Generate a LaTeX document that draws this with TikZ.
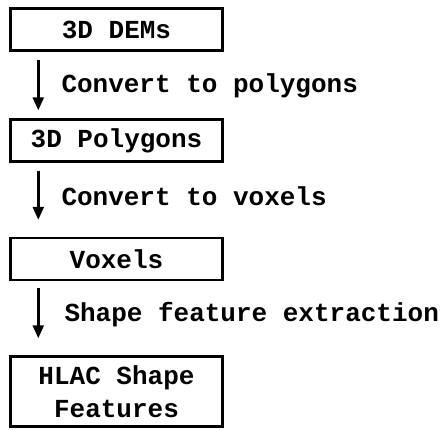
\documentclass[tikz,border=0pt]{standalone}
\usepackage{fontspec}
\setmonofont{Liberation Mono}
\usetikzlibrary{arrows.meta,positioning,calc}
\tikzset{
	stage/.style={draw,line width=2.4pt,minimum width=212pt,minimum height=42pt,inner sep=0pt,
		font=\ttfamily\bfseries\fontsize{26}{33}\selectfont},
	flow/.style={-{Triangle[width=11pt,length=13pt]},line width=2.4pt},
	steplabel/.style={anchor=west,inner sep=0pt,font=\ttfamily\bfseries\fontsize{26}{30}\selectfont}
}
\begin{document}
\begin{tikzpicture}[x=1pt,y=1pt]
		\useasboundingbox (0,0) rectangle (440,-430);
		\node[stage] (dems) at (116.5,-29.5) {3D DEMs};
		\node[stage] (poly) at (116.5,-140.5) {3D Polygons};
		\node[stage] (vox) at (116.5,-259) {Voxels};
		\node[stage,minimum height=70pt,align=center] (hlac) at (116.5,-391.5) {HLAC Shape\\Features};
		\draw[flow] ([xshift=29pt,yshift=-8pt]dems.south west) coordinate (a1) -- ([xshift=29pt,yshift=8pt]poly.north west) coordinate (b1);
		\draw[flow] ([xshift=29pt,yshift=-8pt]poly.south west) coordinate (a2) -- ([xshift=29pt,yshift=17pt]vox.north west) coordinate (b2);
		\draw[flow] ([xshift=29pt,yshift=-7pt]vox.south west) coordinate (a3) -- ([xshift=29pt,yshift=17pt]hlac.north west) coordinate (b3);
		\node[steplabel] (lab1) at ([xshift=23pt,yshift=-1pt]$(a1)!.5!(b1)$) {Convert to polygons};
		\node[steplabel] (lab2) at ([xshift=23pt,yshift=-1pt]$(a2)!.5!(b2)$) {Convert to voxels};
		\node[steplabel] (lab3) at ([xshift=26pt,yshift=-1pt]$(a3)!.5!(b3)$) {Shape feature extraction};
	\end{tikzpicture}
\end{document}
